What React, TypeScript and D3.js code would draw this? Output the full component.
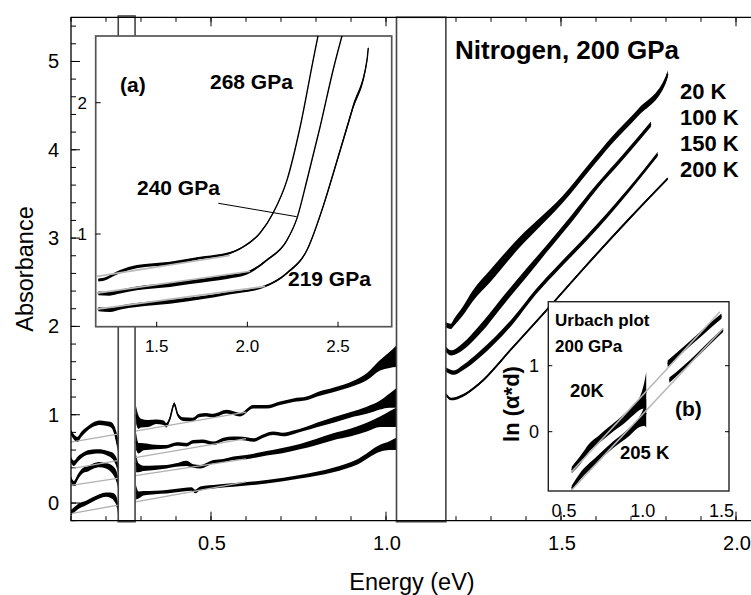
import React from "react";
import * as d3 from "d3";

type Pt = [number, number, number]; // energy, value, noise half-width
type Pair = [number, number];

// ---------- main panel: low-energy spectra (left of detector gap / between gaps) ----------
const spec1A: Pt[] = [[0.100,0.80,0.03],[0.108,0.75,0.03],[0.118,0.72,0.03],[0.130,0.78,0.03],[0.143,0.83,0.025],[0.162,0.885,0.025],[0.181,0.91,0.025],[0.200,0.90,0.025],[0.212,0.89,0.03],[0.220,0.86,0.04],[0.227,0.78,0.06],[0.234,0.66,0.08]];
const spec1B: Pt[] = [[0.286,1.00,0.10],[0.292,0.92,0.08],[0.300,0.905,0.05],[0.320,0.90,0.04],[0.343,0.92,0.025],[0.365,0.91,0.025],[0.372,0.88,0.025],[0.382,0.95,0.02],[0.395,1.12,0.02],[0.405,1.00,0.02],[0.420,0.95,0.02],[0.447,0.945,0.02],[0.466,0.99,0.02],[0.486,1.00,0.02],[0.506,0.99,0.02],[0.545,1.035,0.02],[0.583,1.00,0.02],[0.621,1.09,0.02],[0.659,1.09,0.02],[0.697,1.13,0.02],[0.735,1.165,0.02],[0.773,1.185,0.02],[0.811,1.24,0.025],[0.849,1.28,0.025],[0.907,1.355,0.03],[0.945,1.43,0.04],[0.983,1.56,0.06],[1.010,1.62,0.09],[1.029,1.66,0.12]];
const spec2A: Pt[] = [[0.100,0.49,0.03],[0.108,0.45,0.03],[0.120,0.50,0.03],[0.143,0.565,0.025],[0.162,0.58,0.025],[0.181,0.585,0.025],[0.200,0.57,0.025],[0.212,0.55,0.03],[0.222,0.52,0.04],[0.230,0.46,0.05],[0.234,0.40,0.06]];
const spec2B: Pt[] = [[0.286,0.70,0.10],[0.293,0.62,0.06],[0.307,0.638,0.04],[0.340,0.635,0.025],[0.373,0.638,0.02],[0.402,0.668,0.02],[0.430,0.66,0.02],[0.449,0.694,0.02],[0.475,0.70,0.02],[0.507,0.676,0.02],[0.535,0.72,0.02],[0.564,0.733,0.02],[0.590,0.73,0.02],[0.621,0.713,0.02],[0.650,0.76,0.02],[0.678,0.789,0.02],[0.705,0.775,0.02],[0.735,0.80,0.02],[0.770,0.84,0.02],[0.802,0.883,0.025],[0.850,0.94,0.03],[0.897,0.997,0.03],[0.945,1.05,0.04],[0.983,1.11,0.05],[1.010,1.16,0.08],[1.029,1.19,0.11]];
const spec3A: Pt[] = [[0.100,0.27,0.03],[0.108,0.22,0.03],[0.120,0.30,0.03],[0.135,0.37,0.03],[0.150,0.39,0.03],[0.165,0.42,0.03],[0.181,0.435,0.03],[0.200,0.42,0.03],[0.212,0.40,0.04],[0.222,0.36,0.05],[0.230,0.30,0.06],[0.234,0.24,0.07]];
const spec3B: Pt[] = [[0.286,0.45,0.10],[0.293,0.40,0.05],[0.307,0.393,0.03],[0.340,0.40,0.025],[0.373,0.411,0.02],[0.400,0.43,0.02],[0.430,0.45,0.03],[0.449,0.42,0.02],[0.469,0.411,0.02],[0.490,0.44,0.02],[0.507,0.468,0.02],[0.535,0.48,0.02],[0.564,0.506,0.02],[0.600,0.52,0.025],[0.659,0.563,0.025],[0.700,0.59,0.03],[0.754,0.638,0.03],[0.800,0.69,0.035],[0.849,0.751,0.04],[0.900,0.80,0.045],[0.945,0.86,0.05],[0.983,0.921,0.06],[1.010,0.95,0.09],[1.029,0.97,0.11]];
const spec4A: Pt[] = [[0.100,-0.11,0.03],[0.108,-0.08,0.03],[0.120,-0.04,0.03],[0.143,0.00,0.025],[0.162,0.04,0.025],[0.181,0.075,0.025],[0.200,0.095,0.025],[0.212,0.09,0.03],[0.222,0.07,0.04],[0.230,0.02,0.05],[0.234,-0.06,0.06]];
const spec4B: Pt[] = [[0.286,0.12,0.08],[0.293,0.09,0.04],[0.307,0.11,0.025],[0.340,0.12,0.02],[0.373,0.128,0.02],[0.420,0.15,0.02],[0.445,0.16,0.02],[0.455,0.13,0.02],[0.469,0.166,0.02],[0.520,0.19,0.02],[0.563,0.204,0.02],[0.610,0.22,0.02],[0.659,0.241,0.02],[0.754,0.298,0.02],[0.849,0.374,0.025],[0.920,0.47,0.03],[0.983,0.62,0.04],[1.010,0.65,0.05],[1.029,0.67,0.07]];
const fitsMain: Pair[][] = [
  [[0.10,0.69],[0.60,1.03]],
  [[0.10,0.39],[0.60,0.73]],
  [[0.10,0.20],[0.60,0.50]],
  [[0.10,-0.12],[0.60,0.24]],
];

// ---------- main panel: absorption edge at different temperatures ----------
const edge20K: Pt[] = [[1.171,2.02,0.03],[1.185,2.00,0.03],[1.195,2.05,0.04],[1.219,2.17,0.05],[1.247,2.34,0.06],[1.300,2.58,0.07],[1.381,2.95,0.06],[1.440,3.18,0.05],[1.505,3.44,0.04],[1.580,3.80,0.04],[1.648,4.12,0.04],[1.720,4.42,0.04],[1.800,4.80,0.04],[1.805,4.86,0.04]];
const edge100K: Pt[] = [[1.171,1.74,0.03],[1.186,1.70,0.03],[1.219,1.77,0.04],[1.267,1.96,0.05],[1.343,2.33,0.05],[1.400,2.60,0.05],[1.457,2.87,0.04],[1.530,3.22,0.04],[1.600,3.57,0.03],[1.680,3.93,0.03],[1.757,4.29,0.03]];
const edge150K: Pt[] = [[1.171,1.51,0.025],[1.195,1.477,0.025],[1.219,1.53,0.03],[1.267,1.68,0.035],[1.362,2.06,0.035],[1.428,2.39,0.03],[1.500,2.70,0.03],[1.571,2.99,0.03],[1.695,3.55,0.025],[1.776,3.95,0.025]];
const edge200K: Pt[] = [[1.171,1.23,0.015],[1.186,1.178,0.015],[1.219,1.217,0.015],[1.267,1.353,0.015],[1.362,1.761,0.015],[1.486,2.305,0.015],[1.571,2.684,0.015],[1.700,3.24,0.015],[1.805,3.675,0.015]];
const tempLabels = ["20 K", "100 K", "150 K", "200 K"];

// ---------- inset (a): pressure dependence ----------
const p268: Pt[] = [[1.178,0.650,0.012],[1.224,0.663,0.012],[1.260,0.69,0.012],[1.298,0.713,0.012],[1.390,0.751,0.012],[1.573,0.777,0.012],[1.739,0.817,0.01],[1.904,0.855,0.008],[1.976,0.901,0.006],[2.070,1.008,0.005],[2.142,1.16,0.005],[2.219,1.412,0.005],[2.291,1.815,0.005],[2.363,2.325,0.005],[2.400,2.58,0.005]];
const p240: Pt[] = [[1.178,0.548,0.015],[1.240,0.545,0.015],[1.298,0.561,0.015],[1.390,0.586,0.015],[1.573,0.612,0.015],[1.684,0.634,0.015],[1.800,0.655,0.015],[1.888,0.673,0.015],[1.998,0.703,0.012],[2.108,0.802,0.008],[2.219,0.954,0.006],[2.274,1.121,0.005],[2.329,1.411,0.005],[2.401,1.815,0.005],[2.473,2.249,0.005],[2.540,2.60,0.005]];
const p219: Pt[] = [[1.178,0.427,0.015],[1.243,0.421,0.015],[1.300,0.44,0.015],[1.390,0.459,0.015],[1.573,0.484,0.015],[1.739,0.513,0.012],[1.900,0.55,0.01],[2.087,0.597,0.008],[2.219,0.703,0.008],[2.329,0.878,0.008],[2.417,1.206,0.01],[2.491,1.541,0.015],[2.583,1.968,0.02],[2.660,2.325,0.02],[2.667,2.417,0.02]];
const fitsA: Pair[][] = [
  [[1.171,0.677],[1.904,0.836]],
  [[1.171,0.550],[2.015,0.716]],
  [[1.171,0.428],[2.098,0.601]],
];
const pointer240: Pair[] = [[1.840,1.234],[2.272,1.132]];
const insetAXTicks = [1.5, 2.0, 2.5];
const insetAYTicks = [1, 2];

// ---------- inset (b): Urbach plot ----------
const u20Left: Pt[] = [[0.549,-0.58,0.05],[0.600,-0.44,0.06],[0.664,-0.23,0.06],[0.720,-0.12,0.06],[0.769,-0.02,0.06],[0.820,0.08,0.06],[0.874,0.18,0.07],[0.940,0.33,0.08],[0.990,0.46,0.12],[1.010,0.55,0.2],[1.022,0.60,0.3]];
const u20Right: Pt[] = [[1.158,1.03,0.05],[1.250,1.23,0.04],[1.350,1.44,0.04],[1.420,1.59,0.04],[1.500,1.75,0.04]];
const u205Left: Pt[] = [[0.549,-0.86,0.04],[0.601,-0.68,0.05],[0.706,-0.43,0.05],[0.811,-0.20,0.05],[0.916,0.0,0.06],[0.980,0.15,0.08],[1.010,0.24,0.15],[1.022,0.28,0.22]];
const u205Right: Pt[] = [[1.169,0.78,0.04],[1.250,0.95,0.03],[1.350,1.17,0.03],[1.430,1.36,0.03],[1.510,1.54,0.03]];
const fitsB: Pair[][] = [
  [[0.549,-0.606],[1.490,1.818]],
  [[0.549,-0.883],[1.511,1.567]],
];
const insetBXTicks = [0.5, 1.0, 1.5];
const insetBYTicks = [0, 1];

const mainXTicks = [0.5, 1.0, 1.5, 2.0];
const mainYTicks = [0, 1, 2, 3, 4, 5];
const gaps: Pair[] = [[0.235, 0.283], [1.030, 1.171]];

const FONT = "'Liberation Sans', Arial, Helvetica, sans-serif";

export default function App() {
  const W = 751, H = 595;
  const F = { l: 71, t: 17.3, r: 753.5, b: 520.7 };
  const x = d3.scaleLinear().domain([0.1, 2.0]).range([71, 736]);
  const y = d3.scaleLinear().domain([-0.2, 5.5]).range([F.b, F.t]);

  const A = { l: 95.7, t: 36, r: 391.7, b: 326.7 };
  const xa = d3.scaleLinear().domain([1.5, 2.5]).range([156.7, 338]);
  const ya = d3.scaleLinear().domain([1, 2]).range([234, 102.7]);

  const B = { l: 548.3, t: 301.7, r: 729, b: 491 };
  const xb = d3.scaleLinear().domain([0.5, 1.5]).range([564, 721.5]);
  const yb = d3.scaleLinear().domain([0, 1]).range([431.7, 365.7]);

  const band = (xs: any, ys: any) =>
    d3.area<Pt>().x(d => xs(d[0])).y0(d => ys(d[1] - d[2])).y1(d => ys(d[1] + d[2])).curve(d3.curveMonotoneX);
  const mid = (xs: any, ys: any) =>
    d3.line<Pt>().x(d => xs(d[0])).y(d => ys(d[1])).curve(d3.curveMonotoneX);
  const seg = (xs: any, ys: any) => d3.line<Pair>().x(d => xs(d[0])).y(d => ys(d[1]));

  const drawSpec = (pts: Pt[], xs: any, ys: any, w: number, key: string) => (
    <g key={key}>
      <path d={band(xs, ys)(pts) || ""} fill="#000" />
      <path d={mid(xs, ys)(pts) || ""} fill="none" stroke="#000" strokeWidth={w} />
    </g>
  );

  const minorX = d3.range(0.1, 2.05, 0.1);
  const minorY = d3.range(-0.2, 5.45, 0.2);

  const mainSpecs = [spec1A, spec1B, spec2A, spec2B, spec3A, spec3B, spec4A, spec4B];
  const edges = [edge20K, edge100K, edge150K, edge200K];

  return (
    <svg width={W} height={H} style={{ position: "absolute", left: 0, top: 0, background: "#fff" }}
      fontFamily={FONT}>
      <defs>
        <clipPath id="clipMain"><rect x={F.l} y={F.t} width={F.r - F.l} height={F.b - F.t} /></clipPath>
        <clipPath id="clipA"><rect x={A.l} y={A.t} width={A.r - A.l} height={A.b - A.t} /></clipPath>
        <clipPath id="clipB"><rect x={B.l} y={B.t} width={B.r - B.l} height={B.b - B.t} /></clipPath>
      </defs>
      <rect x={0} y={0} width={W} height={H} fill="#fff" />

      {/* main ticks */}
      <g stroke="#000" strokeWidth={1}>
        {minorX.map((v, i) => (
          <g key={"mx" + i}>
            <line x1={x(v)} x2={x(v)} y1={F.b} y2={F.b - 4.5} />
            <line x1={x(v)} x2={x(v)} y1={F.t} y2={F.t + 4.5} />
          </g>
        ))}
        {mainXTicks.map((v, i) => (
          <g key={"Mx" + i}>
            <line x1={x(v)} x2={x(v)} y1={F.b} y2={F.b - 9} />
            <line x1={x(v)} x2={x(v)} y1={F.t} y2={F.t + 9} />
          </g>
        ))}
        {minorY.map((v, i) => (
          <line key={"my" + i} x1={F.l} x2={F.l + 5} y1={y(v)} y2={y(v)} />
        ))}
        {mainYTicks.map((v, i) => (
          <line key={"My" + i} x1={F.l} x2={F.l + 9} y1={y(v)} y2={y(v)} />
        ))}
      </g>

      {/* main spectra */}
      <g clipPath="url(#clipMain)">
        {mainSpecs.map((s, i) => drawSpec(s, x, y, 1.6, "ms" + i))}
        {edges.map((s, i) => drawSpec(s, x, y, 1.6, "ed" + i))}
        {fitsMain.map((f, i) => (
          <path key={"fm" + i} d={seg(x, y)(f) || ""} stroke="#b0b0b0" strokeWidth={1.3} fill="none" />
        ))}
      </g>

      {/* detector gaps */}
      {gaps.map((g, i) => (
        <rect key={"gap" + i} x={x(g[0])} y={i === 0 ? 16 : F.t} width={x(g[1]) - x(g[0])}
          height={521.7 - (i === 0 ? 16 : F.t)} fill="#fff" stroke="#444" strokeWidth={1.6} />
      ))}

      {/* main frame */}
      <path d={`M${F.r},${F.t}H${F.l}V${F.b}H${F.r}`} fill="none" stroke="#000" strokeWidth={1.3} />

      {/* main tick labels */}
      <g fontSize={20} fill="#000">
        {mainXTicks.map((v, i) => (
          <text key={"lx" + i} x={x(v) + 1} y={550} textAnchor="middle">{v.toFixed(1)}</text>
        ))}
        {mainYTicks.map((v, i) => (
          <text key={"ly" + i} x={59} y={y(v) + 7} textAnchor="end">{v}</text>
        ))}
      </g>
      <text x={412} y={590} fontSize={23.5} textAnchor="middle">Energy (eV)</text>
      <text transform="translate(33,269) rotate(-90)" fontSize={23.5} textAnchor="middle">Absorbance</text>

      {/* right side labels */}
      <text x={455} y={59} fontSize={26} fontWeight="bold">Nitrogen, 200 GPa</text>
      {tempLabels.map((t, i) => (
        <text key={"tl" + i} x={680} y={99 + i * 26} fontSize={22} fontWeight="bold">{t}</text>
      ))}

      {/* inset (a) */}
      <rect x={A.l} y={A.t} width={A.r - A.l} height={A.b - A.t} fill="#fff" stroke="#555" strokeWidth={1.7} />
      <g clipPath="url(#clipA)">
        {[p268, p240, p219].map((s, i) => drawSpec(s, xa, ya, 1.4, "pa" + i))}
        {fitsA.map((f, i) => (
          <path key={"fa" + i} d={seg(xa, ya)(f) || ""} stroke="#b8b8b8" strokeWidth={1.6} fill="none" />
        ))}
        <path d={seg(xa, ya)(pointer240) || ""} stroke="#000" strokeWidth={1} fill="none" />
      </g>
      <g stroke="#000" strokeWidth={1}>
        {insetAXTicks.map((v, i) => (
          <line key={"atx" + i} x1={xa(v)} x2={xa(v)} y1={A.b} y2={A.b - 5} />
        ))}
        {insetAYTicks.map((v, i) => (
          <line key={"aty" + i} x1={A.l} x2={A.l + 5} y1={ya(v)} y2={ya(v)} />
        ))}
      </g>
      <g fontSize={17} fill="#000">
        {insetAXTicks.map((v, i) => (
          <text key={"alx" + i} x={xa(v)} y={352} textAnchor="middle">{v.toFixed(1)}</text>
        ))}
        {insetAYTicks.map((v, i) => (
          <text key={"aly" + i} x={87} y={ya(v) + 6} textAnchor="end">{v}</text>
        ))}
      </g>
      <g fontSize={21} fontWeight="bold" fill="#000">
        <text x={120} y={92}>(a)</text>
        <text x={210} y={89}>268 GPa</text>
        <text x={137} y={195}>240 GPa</text>
        <text x={288} y={286}>219 GPa</text>
      </g>

      {/* inset (b) */}
      <rect x={B.l} y={B.t} width={B.r - B.l} height={B.b - B.t} fill="#fff" stroke="#222" strokeWidth={1.4} />
      <g clipPath="url(#clipB)">
        {[u20Left, u20Right, u205Left, u205Right].map((s, i) => drawSpec(s, xb, yb, 1.4, "ub" + i))}
        {fitsB.map((f, i) => (
          <path key={"fb" + i} d={seg(xb, yb)(f) || ""} stroke="#b8b8b8" strokeWidth={1.6} fill="none" />
        ))}
      </g>
      <g stroke="#000" strokeWidth={1}>
        {insetBYTicks.map((v, i) => (
          <g key={"bty" + i}>
            <line x1={B.l} x2={B.l + 4} y1={yb(v)} y2={yb(v)} />
            <line x1={B.r} x2={B.r - 4} y1={yb(v)} y2={yb(v)} />
          </g>
        ))}
      </g>
      <g fontSize={18} fill="#000">
        {insetBXTicks.map((v, i) => (
          <text key={"blx" + i} x={xb(v)} y={516.5} textAnchor="middle">{v.toFixed(1)}</text>
        ))}
        {insetBYTicks.map((v, i) => (
          <text key={"bly" + i} x={539} y={yb(v) + 6.5} textAnchor="end">{v}</text>
        ))}
      </g>
      <g fontWeight="bold" fill="#000">
        <text x={555} y={326} fontSize={17}>Urbach plot</text>
        <text x={555} y={351.5} fontSize={17}>200 GPa</text>
        <text x={570} y={396.5} fontSize={18.5}>20K</text>
        <text x={675} y={416} fontSize={21}>(b)</text>
        <text x={620} y={459} fontSize={18.5}>205 K</text>
        <text transform="translate(519,404) rotate(-90)" fontSize={22} textAnchor="middle">ln (α*d)</text>
      </g>
    </svg>
  );
}
